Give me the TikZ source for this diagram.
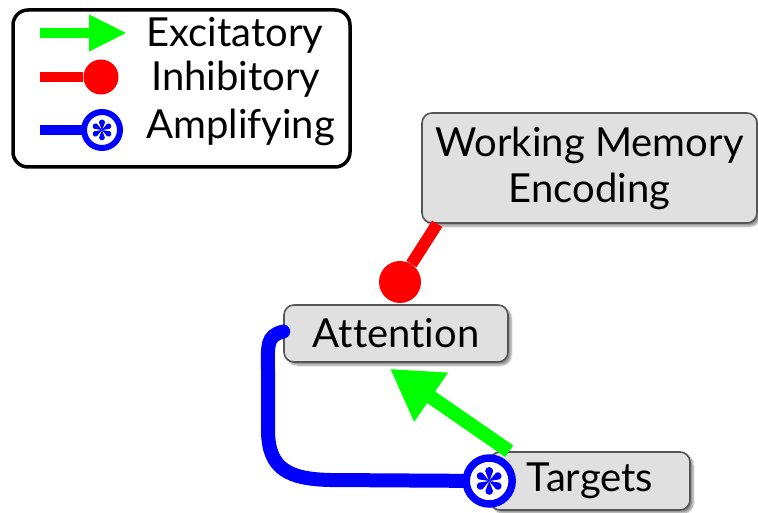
\documentclass[tikz,border=0pt]{standalone}
\usepackage{fontspec}
\setmainfont[Ligatures={NoCommon}]{Lato}
\usetikzlibrary{arrows.meta,shadows.blur,calc}
\definecolor{exgreen}{RGB}{0,255,0}
\definecolor{inred}{RGB}{255,0,0}
\definecolor{ampblue}{RGB}{0,0,255}
\definecolor{boxfill}{RGB}{224,224,224}
\definecolor{boxline}{RGB}{85,85,85}
\begin{document}
\begin{tikzpicture}[x=1pt,y=-1pt,
  box/.style={draw=boxline, line width=1.6pt, fill=boxfill, rounded corners=10pt,
    blur shadow={shadow xshift=3pt, shadow yshift=-3pt, shadow blur steps=6, shadow opacity=45},
    inner sep=0pt, align=center, font=\fontsize{40}{46}\selectfont},
  legtext/.style={anchor=base west, inner sep=0pt, font=\fontsize{40}{46}\selectfont},
  exc/.style={draw=exgreen, line width=14pt, -{Triangle[length=50pt,width=56pt]}},
  excsmall/.style={draw=exgreen, line width=10pt, -{Triangle[length=38pt,width=34pt]}},
  inh/.style={draw=inred, line width=12pt},
  inhsmall/.style={draw=inred, line width=10pt},
  inhdot/.style={circle, fill=inred, inner sep=0pt},
  ampl/.style={draw=ampblue, line width=14pt, line cap=round},
  amplsmall/.style={draw=ampblue, line width=10pt},
  ampdot/.style={circle, draw=ampblue, fill=white, inner sep=0pt},
  astr/.pic={\foreach \a in {90,150,...,450}{\fill[ampblue,rotate=\a] (0,0) -- (10,-3.8) arc[start angle=-90,end angle=90,radius=3.8] -- cycle;}}
]
\useasboundingbox (0,0) rectangle (758,513);

% legend
\node[draw=black, line width=3.5pt, rounded corners=15pt, minimum width=337pt, minimum height=157pt, inner sep=0pt] (legend) at (181.5,88.5) {};
\coordinate (e1) at (40,33);
\coordinate (e2) at (127,33);
\draw[excsmall] (e1) -- (e2);
\node[legtext] (lexc) at (146,47) {Excitatory};
\coordinate (i1) at (40,77);
\node[inhdot, minimum size=35pt] (idot) at (101,77) {};
\draw[inhsmall] (i1) -- (idot);
\node[legtext] (linh) at (151,91) {Inhibitory};
\coordinate (a1) at (40,130);
\draw[amplsmall] (a1) -- (102,130);
\node[ampdot, line width=6pt, minimum size=36pt] (adot) at (102,130) {};
\pic[scale=0.75] at (adot) {astr};
\node[legtext] (lamp) at (146,139) {Amplifying};

% boxes
\node[box, minimum width=335pt, minimum height=110pt] (wm) at (589.5,168) {Working Memory\\Encoding};
\node[box, minimum width=224pt, minimum height=57pt] (att) at (396,333.5) {Attention};
\node[box, minimum width=200pt, minimum height=58pt] (tg) at (590,481) {Targets};

% inhibitory connector
\node[inhdot, minimum size=42pt] (wdot) at (400,282) {};
\draw[inh] (wdot) -- ([xshift=16pt]wm.south west);

% excitatory connector
\draw[exc] ([xshift=20pt]tg.north west) -- ([xshift=-6pt,yshift=-6pt]att.south);

% amplifying connector
\draw[ampl] ([yshift=2pt]att.west) .. controls (266,336) and (268,345) .. (268,370) -- (268,430)
   .. controls (268,470) and (290,479) .. (330,480) -- (tg.west);
\node[ampdot, line width=7.5pt, minimum size=46pt] (tdot) at (tg.west) {};
\pic at (tdot) {astr};
\end{tikzpicture}
\end{document}
